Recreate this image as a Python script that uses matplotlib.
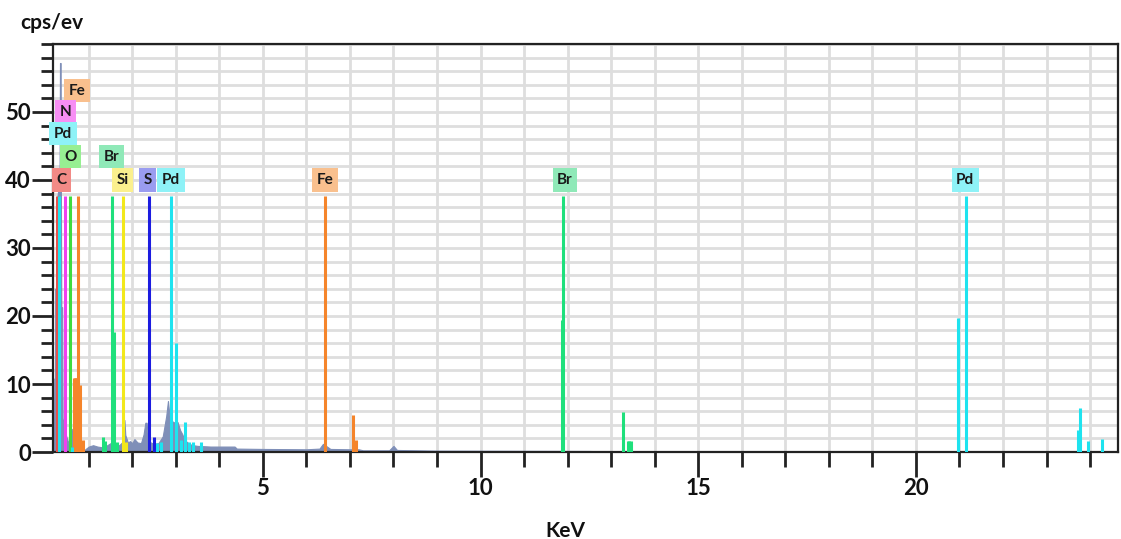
import matplotlib
matplotlib.use("Agg")
import matplotlib.pyplot as plt
from matplotlib.ticker import MultipleLocator

# Measured background spectrum (keV, cps/eV)
bg_kev = [0.18, 0.20, 0.21, 0.225, 0.23, 0.26, 0.27, 0.33, 0.34, 0.355, 0.36, 0.37, 0.39, 0.40,
          0.45, 0.55, 0.60, 0.62, 0.64, 0.70, 0.86, 0.88, 0.92, 1.0, 1.1, 1.2, 1.3, 1.4,
          1.5, 1.6, 1.7, 1.78, 1.82, 1.84, 1.9, 1.95, 2.0, 2.05, 2.12, 2.2, 2.26, 2.30,
          2.33, 2.36, 2.42, 2.5, 2.6, 2.7, 2.78, 2.82, 2.86, 2.92, 2.98, 3.04, 3.1, 3.15,
          3.2, 3.3, 3.4, 3.5, 3.8, 4.0, 4.35, 4.4, 5.0, 6.0, 6.3, 6.38, 6.45, 6.55, 7.0,
          7.2, 7.3, 7.9, 8.0, 8.08, 9.0, 12.5, 12.8, 13.0, 13.2, 24.64]
bg_cps = [0.0, 0.0, 10.8, 10.8, 24.0, 24.0, 37.0, 40.0, 57.2, 57.2, 40.0, 21.3, 21.3, 5.0,
          3.0, 1.0, 1.2, 3.4, 1.0, 0.8, 0.3, 0.0, 0.4, 0.8, 1.0, 0.8, 0.7, 0.9,
          1.3, 1.0, 1.0, 1.5, 4.7, 2.5, 1.4, 1.6, 1.3, 1.9, 1.4, 1.3, 2.6, 4.3,
          4.3, 2.0, 1.4, 1.2, 1.3, 2.3, 5.3, 7.5, 5.0, 4.5, 4.3, 4.4, 3.2, 2.6,
          1.8, 1.2, 1.0, 0.9, 0.8, 0.8, 0.8, 0.5, 0.45, 0.4, 0.5, 1.2, 0.9, 0.45, 0.4,
          0.4, 0.25, 0.25, 0.9, 0.3, 0.2, 0.15, 0.1, 0.05, 0.0, 0.0]

# Element line markers: energies (keV) and heights (cps/eV)
c_kev = [0.27]
c_cps = [37.6]
pd_kev = [0.32, 0.61, 2.56, 2.67, 2.88, 3.00, 3.13, 3.21, 3.30, 3.39, 3.59,
          20.97, 21.15, 23.72, 23.77, 23.95, 24.27]
pd_cps = [37.6, 0.8, 1.3, 1.5, 37.6, 16.0, 1.7, 4.4, 1.5, 1.5, 1.5,
          19.7, 37.6, 3.2, 6.5, 1.6, 1.9]
n_kev = [0.45]
n_cps = [37.6]
o_kev = [0.58]
o_cps = [37.6]
fe_kev = [0.66, 0.68, 0.70, 0.72, 0.75, 0.80, 0.86, 6.42, 7.07, 7.14]
fe_cps = [10.9, 10.9, 10.9, 10.9, 37.6, 9.8, 1.7, 37.6, 5.4, 1.7]
br_kev = [1.32, 1.37, 1.53, 1.57, 1.65, 11.87, 11.90, 13.26, 13.38, 13.42, 13.46]
br_cps = [2.2, 1.6, 37.6, 17.6, 1.5, 19.4, 37.6, 5.9, 1.6, 1.6, 1.6]
si_kev = [1.78, 1.85]
si_cps = [37.6, 1.5]
s_kev = [2.38, 2.50]
s_cps = [37.6, 2.2]

# Element labels: text, keV, cps/eV
label_text = ["Fe", "N", "Pd", "O", "C", "Br", "Si", "S", "Pd", "Fe", "Br", "Pd"]
label_kev = [0.73, 0.46, 0.41, 0.58, 0.38, 1.53, 1.78, 2.35, 2.89, 6.43, 11.94, 21.13]
label_cps = [53.1, 50.0, 46.8, 43.4, 40.0, 43.4, 40.0, 40.0, 40.0, 40.0, 40.0, 40.0]

line_colors = {"C": "#e8504a", "Pd": "#1ee3ef", "N": "#f040f0", "O": "#3fdc3f",
               "Fe": "#f5852b", "Br": "#1fe07c", "Si": "#f2e81a", "S": "#1c1ce0"}
box_colors = {"C": "#f28a86", "Pd": "#8ef2f7", "N": "#f78ef4", "O": "#97ef92",
              "Fe": "#f9c08e", "Br": "#8fe9b8", "Si": "#fbf08e", "S": "#9a9cf0"}

series = [("C", c_kev, c_cps), ("Fe", fe_kev, fe_cps), ("O", o_kev, o_cps),
          ("N", n_kev, n_cps), ("Pd", pd_kev, pd_cps), ("Br", br_kev, br_cps),
          ("Si", si_kev, si_cps), ("S", s_kev, s_cps)]

fig = plt.figure(figsize=(11.21, 5.39), dpi=100)
ax = fig.add_axes([0.0473, 0.1614, 0.9500, 0.7570])

ax.set_xlim(0.18, 24.64)
ax.set_ylim(0, 60)

# grid
ax.xaxis.set_major_locator(MultipleLocator(5))
ax.xaxis.set_minor_locator(MultipleLocator(1))
ax.yaxis.set_major_locator(MultipleLocator(10))
ax.yaxis.set_minor_locator(MultipleLocator(2))
ax.grid(which="both", color="#dedede", linewidth=2.0, zorder=0)
ax.set_axisbelow(True)

# background spectrum
ax.fill_between(bg_kev, bg_cps, 0, color="#7f8fb8", linewidth=0.8,
                edgecolor="#7f8fb8", zorder=2)

# element lines
for name, kev, cps in series:
    ax.vlines(kev, 0, cps, colors=line_colors[name], linewidth=2.2, zorder=3)

# element labels
for txt, x, y in zip(label_text, label_kev, label_cps):
    ax.text(x, y, txt, ha="center", va="center", fontsize=11,
            fontweight="bold", family="Lato", color="#1a1a1a", zorder=5,
            bbox=dict(boxstyle="square,pad=0.3", facecolor=box_colors[txt],
                      edgecolor="none"))

# axes styling
for side in ["top", "left", "bottom", "right"]:
    ax.spines[side].set_color("#222222")
    ax.spines[side].set_linewidth(1.6)

ax.tick_params(axis="x", which="major", direction="out", length=18, width=2,
               color="#222222", labelsize=16, pad=1)
ax.tick_params(axis="x", which="minor", direction="out", length=11, width=2,
               color="#222222")
ax.tick_params(axis="y", which="major", direction="out", length=15, width=2,
               color="#222222", labelsize=16, pad=1)
ax.tick_params(axis="y", which="minor", direction="out", length=9, width=2,
               color="#222222")

ax.set_xticks([5, 10, 15, 20])
ax.set_yticks([0, 10, 20, 30, 40, 50])
for lab in ax.get_xticklabels() + ax.get_yticklabels():
    lab.set_fontfamily("Lato")
    lab.set_fontweight("bold")
    lab.set_color("#111111")

fig.text(20 / 1121, 1 - 23 / 539, "cps/ev", ha="left", va="center",
         fontsize=15, fontweight="bold", family="Lato", color="#111111")
fig.text(565 / 1121, 1 - 531 / 539, "KeV", ha="center", va="center",
         fontsize=15, fontweight="bold", family="Lato", color="#111111")

fig.savefig("out.png", dpi=100)
